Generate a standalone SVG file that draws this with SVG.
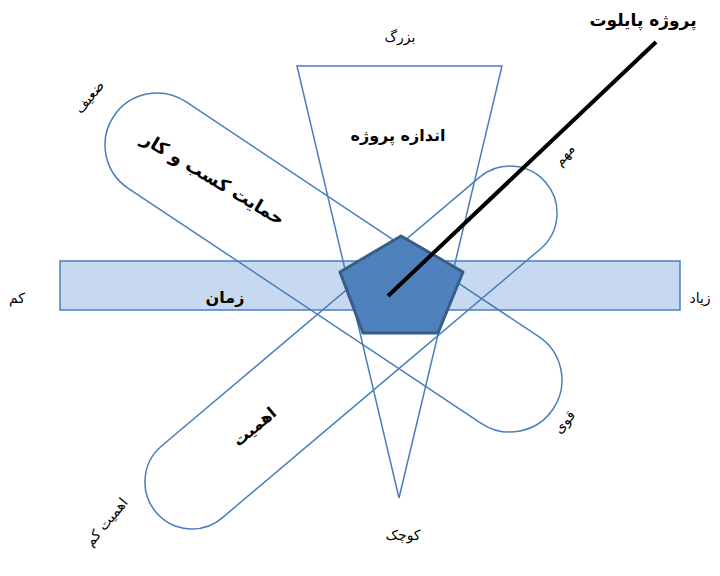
<svg xmlns="http://www.w3.org/2000/svg" width="720" height="576" viewBox="0 0 720 576">
<style>
.o{fill:none;stroke:#4a7ebb;stroke-width:1.5}
.t{font-family:"DejaVu Sans","Noto Sans",sans-serif;font-size:14px;fill:#000;text-anchor:middle}
.b{font-weight:bold;font-size:16px}
</style>
<rect width="720" height="576" fill="#fff"/>
<g id="time">
<rect x="60" y="261" width="620" height="49" fill="#c6d9f1" stroke="#4a7ebb" stroke-width="1.5"/>
<text class="t b" x="225" y="303">زمان</text>
</g>
<g id="size">
<polygon class="o" points="297,66 502,66 399,498"/>
<text class="t b" x="398" y="141">اندازه پروژه</text>
</g>
<g id="support">
<rect class="o" x="69.5" y="210.5" width="528" height="104" rx="52" transform="rotate(33.65 333.5 262.5)"/>
<text class="t b" transform="translate(210 184) rotate(31)" style="font-size:18px">حمایت کسب و کار</text>
</g>
<g id="importance">
<rect class="o" x="95.75" y="300.5" width="510.5" height="94" rx="47" transform="rotate(-40.2 351 347.5)"/>
<text class="t b" transform="translate(258 431) rotate(-40)">اهمیت</text>
</g>
<g id="pilot">
<polygon points="401,236 463,272 438,333 363,333 340,272" fill="#4f81bd" stroke="#385d8a" stroke-width="3" stroke-linejoin="round"/>
</g>
<g id="connectors">
<line x1="388" y1="296" x2="656" y2="42" stroke="#000" stroke-width="4"/>
</g>
<g id="labels">
<text class="t" x="400" y="42">بزرگ</text>
<text class="t" x="403" y="540">کوچک</text>
<text class="t" x="17" y="303">کم</text>
<text class="t" x="700" y="303">زیاد</text>
<text class="t" transform="translate(93 100) rotate(-50)">ضعیف</text>
<text class="t" transform="translate(568 158) rotate(-50)">مهم</text>
<text class="t" transform="translate(568 425) rotate(-50)">قوی</text>
<text class="t" transform="translate(110 525) rotate(-50)">اهمیت کم</text>
<text class="t b" x="643" y="26" style="font-size:17px">پروژه پایلوت</text>
</g>
</svg>
